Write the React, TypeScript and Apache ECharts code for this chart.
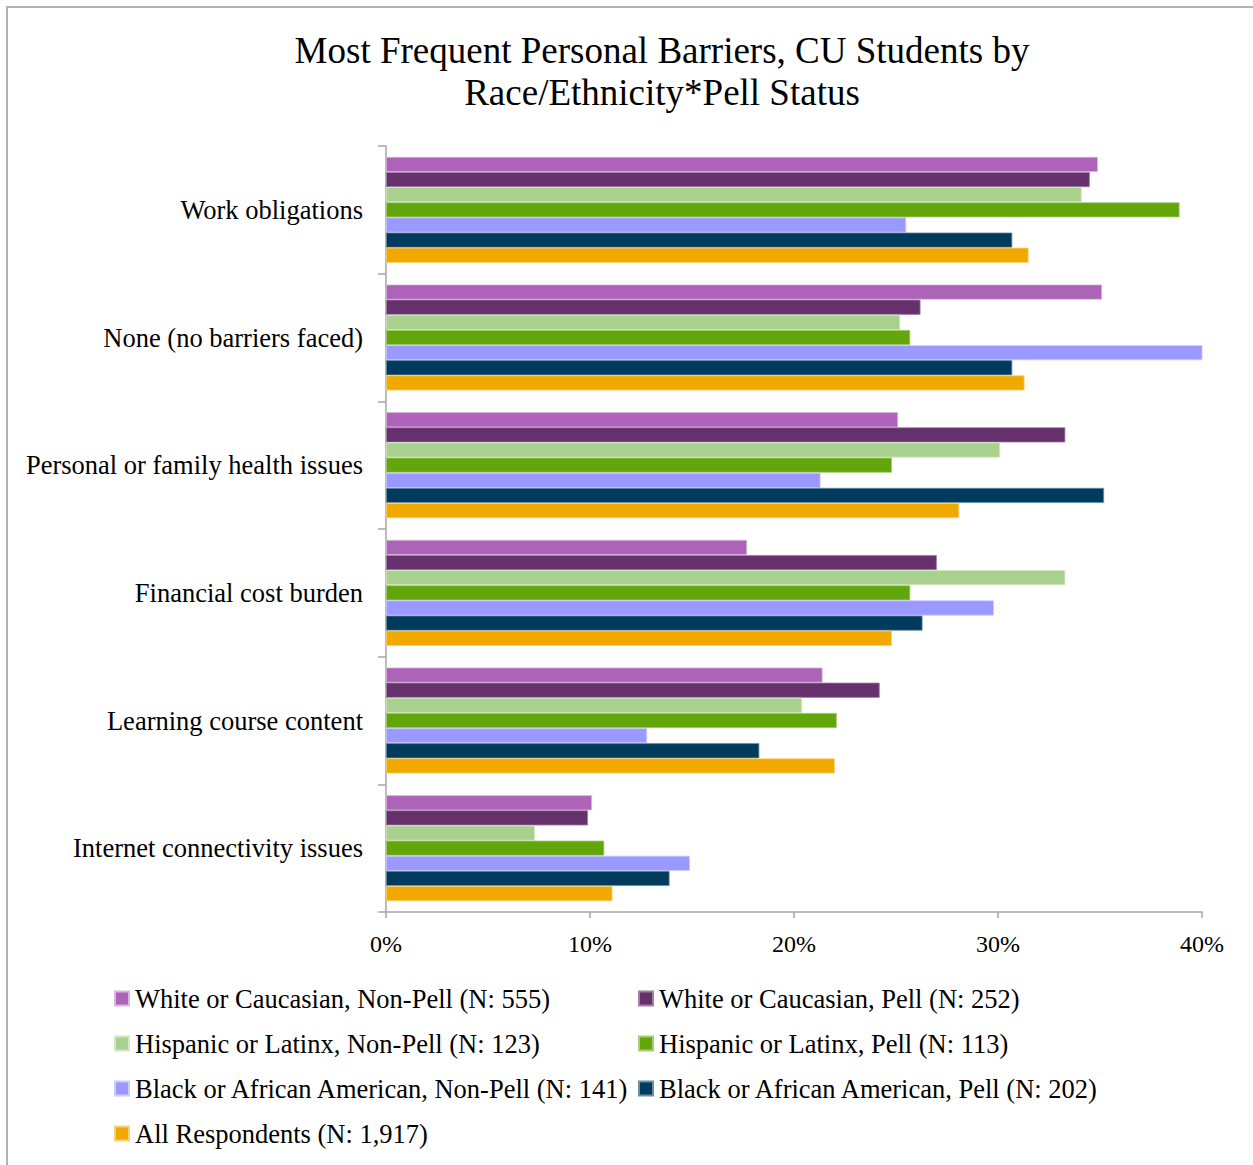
import React, { useEffect, useRef } from "react";
import * as echarts from "echarts";

const categories = [
  "Work obligations",
  "None (no barriers faced)",
  "Personal or family health issues",
  "Financial cost burden",
  "Learning course content",
  "Internet connectivity issues",
];

const seriesNames = [
  "White or Caucasian, Non-Pell (N: 555)",
  "White or Caucasian, Pell (N: 252)",
  "Hispanic or Latinx, Non-Pell (N: 123)",
  "Hispanic or Latinx, Pell (N: 113)",
  "Black or African American, Non-Pell (N: 141)",
  "Black or African American, Pell (N: 202)",
  "All Respondents (N: 1,917)",
];

const whiteNonPell = [34.9, 35.1, 25.1, 17.7, 21.4, 10.1];
const whitePell = [34.5, 26.2, 33.3, 27.0, 24.2, 9.9];
const hispanicNonPell = [34.1, 25.2, 30.1, 33.3, 20.4, 7.3];
const hispanicPell = [38.9, 25.7, 24.8, 25.7, 22.1, 10.7];
const blackNonPell = [25.5, 40.1, 21.3, 29.8, 12.8, 14.9];
const blackPell = [30.7, 30.7, 35.2, 26.3, 18.3, 13.9];
const allRespondents = [31.5, 31.3, 28.1, 24.8, 22.0, 11.1];

const seriesValues = [
  whiteNonPell,
  whitePell,
  hispanicNonPell,
  hispanicPell,
  blackNonPell,
  blackPell,
  allRespondents,
];

const colors = ["#ad63b8", "#65306b", "#a9d18e", "#63a60b", "#9999ff", "#003a5c", "#f1a900"];
const borderColors = ["#d9b8de", "#a07fa3", "#d4e8c6", "#a6cd77", "#ccccff", "#6d8da0", "#f7d27a"];

const FONT = '"Liberation Serif", "Times New Roman", serif';

export default function App() {
  const ref = useRef<HTMLDivElement>(null);
  useEffect(() => {
    if (!ref.current) return;
    const chart = echarts.init(ref.current, null, { renderer: "svg" });
    const series = seriesNames.map((name, i) => ({
      name,
      type: "bar",
      data: seriesValues[i],
      barGap: "0%",
      barCategoryGap: "17%",
      itemStyle: { color: colors[i], borderColor: borderColors[i], borderWidth: 0.8 },
    }));
    const legendItem = (names: string[], left: number) => ({
      orient: "vertical",
      left,
      top: 985,
      itemWidth: 14,
      itemHeight: 14,
      itemGap: 18,
      icon: "rect",
      padding: 0,
      data: names,
      textStyle: { fontFamily: FONT, fontSize: 26.5, color: "#000", lineHeight: 26, padding: [0, 0, 0, 1] },
      selectedMode: false,
    });
    chart.setOption({
      animation: false,
      backgroundColor: "#fff",
      textStyle: { fontFamily: FONT },
      title: {
        text: "Most Frequent Personal Barriers, CU Students by\nRace/Ethnicity*Pell Status",
        left: 662,
        top: 29,
        textAlign: "center",
        padding: 0,
        textStyle: { fontFamily: FONT, fontSize: 37, fontWeight: "normal", color: "#000", lineHeight: 42 },
      },
      legend: [
        legendItem([seriesNames[0], seriesNames[2], seriesNames[4], seriesNames[6]], 114),
        legendItem([seriesNames[1], seriesNames[3], seriesNames[5]], 638),
      ],
      grid: { left: 386, right: 51, top: 146, bottom: 253, containLabel: false },
      xAxis: {
        type: "value",
        min: 0,
        max: 40,
        interval: 10,
        splitLine: { show: false },
        axisLine: { show: true, lineStyle: { color: "#a6a6a6", width: 1.5 } },
        axisTick: { show: true, length: 6, lineStyle: { color: "#a6a6a6", width: 1.5 } },
        axisLabel: { formatter: "{value}%", fontFamily: FONT, fontSize: 24, color: "#000", margin: 20 },
      },
      yAxis: {
        type: "category",
        data: categories,
        inverse: true,
        axisLine: { show: true, lineStyle: { color: "#a6a6a6", width: 1.5 } },
        axisTick: { show: true, length: 8, alignWithLabel: false, lineStyle: { color: "#a6a6a6", width: 1.5 } },
        axisLabel: { fontFamily: FONT, fontSize: 26.5, color: "#000", margin: 23 },
      },
      graphic: [
        {
          type: "polyline",
          shape: { points: [[7, 1165], [7, 7], [1253, 7]] },
          style: { stroke: "#b3b3b3", lineWidth: 2, fill: "none" },
          silent: true,
        },
      ],
      series,
    });
    return () => chart.dispose();
  }, []);
  return (
    <div
      ref={ref}
      style={{ position: "absolute", left: 0, top: 0, width: 1253, height: 1165 }}
    />
  );
}
